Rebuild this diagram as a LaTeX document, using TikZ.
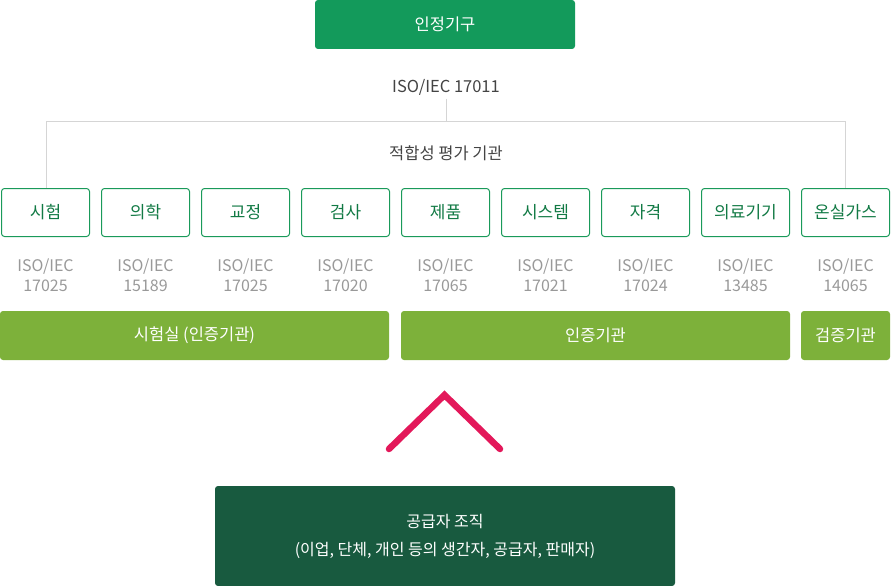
\documentclass[tikz,border=0pt]{standalone}
\usepackage{fontspec}
\setmainfont{Noto Sans CJK KR}
\definecolor{topgreen}{HTML}{139A5B}
\definecolor{boxgreen}{HTML}{1A9A5A}
\definecolor{txtgreen}{HTML}{127A45}
\definecolor{lime}{HTML}{7DB13A}
\definecolor{darkgreen}{HTML}{185A3F}
\definecolor{chev}{HTML}{E3185A}
\definecolor{linegray}{HTML}{D5D5D5}
\definecolor{isogray}{HTML}{999999}
\definecolor{txtgray}{HTML}{444444}
\begin{document}
\begin{tikzpicture}[x=1pt,y=-1pt,
  filledbox/.style={rounded corners=3pt,inner sep=0pt,text=white,font=\fontsize{16.5}{20}\selectfont},
  smallbox/.style={draw=boxgreen,line width=1pt,rounded corners=3pt,fill=white,minimum width=88pt,minimum height=48pt,inner sep=0pt,text=txtgreen,font=\fontsize{17}{20}\selectfont},
  isolabel/.style={text=isogray,align=center,font=\fontsize{16}{20}\selectfont},
  plain/.style={text=txtgray,font=\fontsize{16.5}{20}\selectfont},
  conn/.style={draw=linegray,line width=1pt}]
\useasboundingbox (0,0) rectangle (892,586);
% top box
\node[filledbox,fill=topgreen,minimum width=260pt,minimum height=49pt] (top) at (445,24.5) {인정기구};
\node[plain] (iso17011) at (446,87) {ISO/IEC 17011};
\coordinate (hl) at (46,121);
\coordinate (hr) at (845,121);
\coordinate (hm) at (446,121);
\node[plain] (cab) at (446,153) {적합성 평가 기관};
% small boxes
\foreach \i/\t/\n in {0/시험/17025,1/의학/15189,2/교정/17025,3/검사/17020,4/제품/17065,5/시스템/17021,6/자격/17024,7/의료기기/13485,8/온실가스/14065}{
  \node[smallbox] (b\i) at (45.5+100*\i,212.5) {\t};
  \node[isolabel] (s\i) at (45.5+100*\i,275) {ISO/IEC\\\n};
}
\draw[conn] (iso17011.south) -- (hm);
\draw[conn] (b0.north -| hl) -- (hl) -- (hr) -- (b8.north -| hr);
% lime bars
\node[filledbox,fill=lime,minimum width=389pt,minimum height=49pt] (lab) at (194.5,335.5) {시험실 (인증기관)};
\node[filledbox,fill=lime,minimum width=389pt,minimum height=49pt] (cert) at (595.5,335.5) {인증기관};
\node[filledbox,fill=lime,minimum width=89pt,minimum height=49pt] (ver) at (845.5,335.5) {검증기관};
% chevron
\coordinate (c1) at (389,449);
\coordinate (c2) at (444.5,395);
\coordinate (c3) at (500,449);
\draw[chev,line width=6.5pt,line cap=round,line join=miter] (c1) -- (c2) -- (c3);
% bottom box
\node[filledbox,fill=darkgreen,minimum width=460pt,minimum height=100pt,align=center,font=\fontsize{16}{28}\selectfont] (sup) at (445,536) {공급자 조직\\(이업, 단체, 개인 등의 생간자, 공급자, 판매자)};
\end{tikzpicture}
\end{document}
